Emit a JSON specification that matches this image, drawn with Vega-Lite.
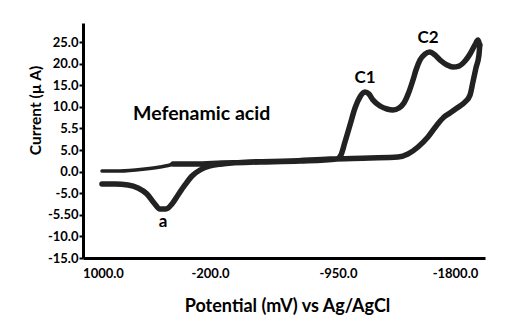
{
  "$schema": "https://vega.github.io/schema/vega-lite/v6.json",
  "width": 402,
  "height": 235,
  "autosize": {"type": "none"},
  "padding": {"left": 83, "top": 23, "right": 28, "bottom": 69},
  "background": "white",
  "view": {"stroke": null},
  "config": {"font": "Lato"},
  "resolve": {"axis": {"x": "independent", "y": "independent"}},
  "datasets": {
    "cv": [
      {"i": 1, "seg": "thin", "potential": 1008, "current": 0.14},
      {"i": 2, "seg": "thin", "potential": 865, "current": 0.14},
      {"i": 3, "seg": "thin", "potential": 666, "current": 0.6},
      {"i": 4, "seg": "thin", "potential": 547, "current": 1.06},
      {"i": 5, "seg": "thin", "potential": 483, "current": 1.41},
      {"i": 6, "seg": "thin", "potential": 443, "current": 1.76},
      {"i": 7, "seg": "thick", "potential": 443, "current": 1.76},
      {"i": 8, "seg": "thick", "potential": 268, "current": 1.76},
      {"i": 9, "seg": "thick", "potential": 53, "current": 1.99},
      {"i": 10, "seg": "thick", "potential": -249, "current": 2.22},
      {"i": 11, "seg": "thick", "potential": -567, "current": 2.45},
      {"i": 12, "seg": "thick", "potential": -861, "current": 2.92},
      {"i": 13, "seg": "thick", "potential": -893, "current": 3.84},
      {"i": 14, "seg": "thick", "potential": -925, "current": 6.85},
      {"i": 15, "seg": "thick", "potential": -965, "current": 10.79},
      {"i": 16, "seg": "thick", "potential": -1005, "current": 14.72},
      {"i": 17, "seg": "thick", "potential": -1044, "current": 17.27},
      {"i": 18, "seg": "thick", "potential": -1084, "current": 18.43},
      {"i": 19, "seg": "thick", "potential": -1116, "current": 17.96},
      {"i": 20, "seg": "thick", "potential": -1148, "current": 16.57},
      {"i": 21, "seg": "thick", "potential": -1204, "current": 15.19},
      {"i": 22, "seg": "thick", "potential": -1259, "current": 14.49},
      {"i": 23, "seg": "thick", "potential": -1307, "current": 14.26},
      {"i": 24, "seg": "thick", "potential": -1355, "current": 14.72},
      {"i": 25, "seg": "thick", "potential": -1394, "current": 15.88},
      {"i": 26, "seg": "thick", "potential": -1434, "current": 18.43},
      {"i": 27, "seg": "thick", "potential": -1466, "current": 21.2},
      {"i": 28, "seg": "thick", "potential": -1490, "current": 23.52},
      {"i": 29, "seg": "thick", "potential": -1522, "current": 25.83},
      {"i": 30, "seg": "thick", "potential": -1561, "current": 27.22},
      {"i": 31, "seg": "thick", "potential": -1601, "current": 27.69},
      {"i": 32, "seg": "thick", "potential": -1641, "current": 27.0},
      {"i": 33, "seg": "thick", "potential": -1681, "current": 25.83},
      {"i": 34, "seg": "thick", "potential": -1737, "current": 24.68},
      {"i": 35, "seg": "thick", "potential": -1784, "current": 24.21},
      {"i": 36, "seg": "thick", "potential": -1832, "current": 24.44},
      {"i": 37, "seg": "thick", "potential": -1880, "current": 25.6},
      {"i": 38, "seg": "thick", "potential": -1920, "current": 27.22},
      {"i": 39, "seg": "thick", "potential": -1959, "current": 29.31},
      {"i": 40, "seg": "thick", "potential": -1983, "current": 30.46},
      {"i": 41, "seg": "thick", "potential": -1999, "current": 29.31},
      {"i": 42, "seg": "thick", "potential": -1991, "current": 26.99},
      {"i": 43, "seg": "thick", "potential": -1967, "current": 23.98},
      {"i": 44, "seg": "thick", "potential": -1943, "current": 20.74},
      {"i": 45, "seg": "thick", "potential": -1920, "current": 17.73},
      {"i": 46, "seg": "thick", "potential": -1880, "current": 16.11},
      {"i": 47, "seg": "thick", "potential": -1816, "current": 14.72},
      {"i": 48, "seg": "thick", "potential": -1760, "current": 13.56},
      {"i": 49, "seg": "thick", "potential": -1713, "current": 12.64},
      {"i": 50, "seg": "thick", "potential": -1657, "current": 10.79},
      {"i": 51, "seg": "thick", "potential": -1585, "current": 8.01},
      {"i": 52, "seg": "thick", "potential": -1506, "current": 5.69},
      {"i": 53, "seg": "thick", "potential": -1426, "current": 4.07},
      {"i": 54, "seg": "thick", "potential": -1347, "current": 3.38},
      {"i": 55, "seg": "thick", "potential": -1124, "current": 3.15},
      {"i": 56, "seg": "thick", "potential": -806, "current": 2.92},
      {"i": 57, "seg": "thick", "potential": -488, "current": 2.45},
      {"i": 58, "seg": "thick", "potential": -169, "current": 2.22},
      {"i": 59, "seg": "thick", "potential": 53, "current": 1.76},
      {"i": 60, "seg": "thick", "potential": 149, "current": 1.3},
      {"i": 61, "seg": "thick", "potential": 228, "current": 0.37},
      {"i": 62, "seg": "thick", "potential": 292, "current": -1.02},
      {"i": 63, "seg": "thick", "potential": 348, "current": -3.1},
      {"i": 64, "seg": "thick", "potential": 403, "current": -5.42},
      {"i": 65, "seg": "thick", "potential": 451, "current": -7.5},
      {"i": 66, "seg": "thick", "potential": 499, "current": -8.66},
      {"i": 67, "seg": "thick", "potential": 547, "current": -8.66},
      {"i": 68, "seg": "thick", "potential": 594, "current": -7.27},
      {"i": 69, "seg": "thick", "potential": 650, "current": -5.19},
      {"i": 70, "seg": "thick", "potential": 722, "current": -3.8},
      {"i": 71, "seg": "thick", "potential": 801, "current": -3.1},
      {"i": 72, "seg": "thick", "potential": 905, "current": -2.87},
      {"i": 73, "seg": "thick", "potential": 1008, "current": -2.87}
    ],
    "notes": [
      {"label": "C1", "potential": -1084, "current": 21.67},
      {"label": "C2", "potential": -1585, "current": 30.93},
      {"label": "a", "potential": 523, "current": -11.67}
    ],
    "title": [
      {"label": "Mefenamic acid", "potential": 761, "current": 13.33}
    ]
  },
  "layer": [
    {
      "data": {"name": "cv"},
      "mark": {"type": "line", "color": "#222222", "strokeCap": "round", "strokeJoin": "round", "interpolate": "monotone"},
      "encoding": {
        "x": {
          "field": "potential", "type": "quantitative",
          "scale": {"domain": [-2039, 1159], "reverse": true, "nice": false, "zero": false},
          "axis": {
            "title": "Potential (mV) vs Ag/AgCl",
            "values": [1000, 149, -869, -1800],
            "labelExpr": "datum.value == 1000 ? '1000.0' : datum.value == 149 ? '-200.0' : datum.value == -869 ? '-950.0' : '-1800.0'",
            "grid": false, "ticks": false,
            "domainColor": "black", "domainWidth": 3,
            "labelFont": "Lato", "labelFontWeight": "bold", "labelFontSize": 13, "labelColor": "black",
            "labelPadding": 9, "labelOverlap": false, "labelFlush": false,
            "titleFont": "Lato", "titleFontWeight": "bold", "titleFontSize": 18, "titleColor": "black",
            "titleX": 204, "titleY": 48, "titleBaseline": "middle", "titleAlign": "center"
          }
        },
        "y": {
          "field": "current", "type": "quantitative",
          "scale": {"domain": [-20, 34.4], "nice": false, "zero": false},
          "axis": {
            "title": "Current (µ A)",
            "values": [-20, -15, -10, -5, 0, 5, 10, 15, 20, 25, 30],
            "labelExpr": "datum.value == -20 ? '-15.0' : datum.value == -15 ? '-10.0' : datum.value == -10 ? '-5.50' : datum.value == -5 ? '-5.0' : datum.value == 0 ? '0.0' : datum.value == 5 ? '5.0' : datum.value == 10 ? '5.5' : datum.value == 15 ? '10.0' : datum.value == 20 ? '15.0' : datum.value == 25 ? '20.0' : '25.0'",
            "grid": false,
            "domainColor": "black", "domainWidth": 3,
            "tickColor": "black", "tickSize": 4, "tickWidth": 2,
            "labelFont": "Lato", "labelFontWeight": "bold", "labelFontSize": 13, "labelColor": "black",
            "labelPadding": 1, "labelOverlap": false, "labelFlush": false, "labelSeparation": 0,
            "titleFont": "Lato", "titleFontWeight": "bold", "titleFontSize": 15.5, "titleColor": "black",
            "titleAngle": 270, "titleX": -48, "titleY": 87, "titleBaseline": "middle", "titleAlign": "center"
          }
        },
        "order": {"field": "i", "type": "quantitative"},
        "strokeWidth": {"field": "seg", "type": "nominal", "scale": {"domain": ["thin", "thick"], "range": [3.5, 5.5]}, "legend": null}
      }
    },
    {
      "data": {"name": "notes"},
      "mark": {"type": "text", "font": "Lato", "fontWeight": "bold", "fontSize": 17, "color": "black", "baseline": "middle", "align": "center"},
      "encoding": {
        "x": {"field": "potential", "type": "quantitative", "axis": null},
        "y": {"field": "current", "type": "quantitative", "axis": null},
        "text": {"field": "label"}
      }
    },
    {
      "data": {"name": "title"},
      "mark": {"type": "text", "font": "Lato", "fontWeight": "bold", "fontSize": 19.5, "color": "black", "baseline": "middle", "align": "left"},
      "encoding": {
        "x": {"field": "potential", "type": "quantitative", "axis": null},
        "y": {"field": "current", "type": "quantitative", "axis": null},
        "text": {"field": "label"}
      }
    }
  ]
}
